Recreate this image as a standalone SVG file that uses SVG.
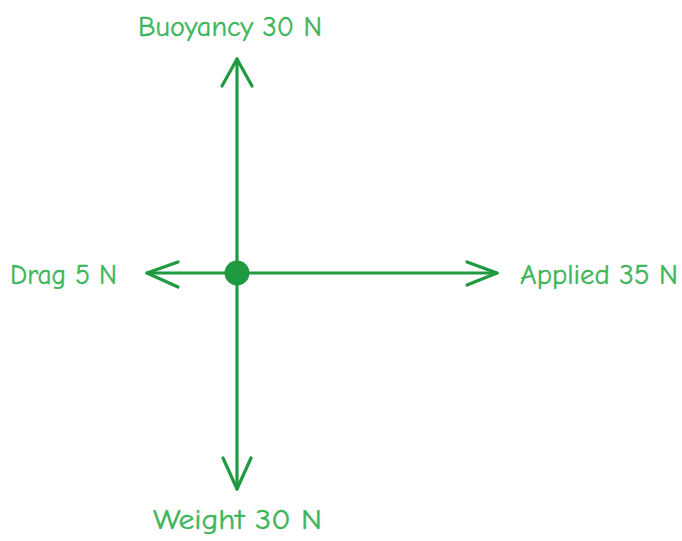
<svg xmlns="http://www.w3.org/2000/svg" width="682" height="541" viewBox="0 0 682 541">
<style>
.lbl{font-family:"Comic Neue","Liberation Sans",Arial,sans-serif;font-size:28px;fill:#3db55b;stroke:#3db55b;stroke-width:0.4}
.ln{stroke:#1f9a41;stroke-width:3.2;fill:none;stroke-linecap:round;stroke-linejoin:round}
</style>
<rect width="682" height="541" fill="#ffffff"/>
<g id="connectors">
<line class="ln" x1="237" y1="273" x2="237" y2="59"/>
<polyline class="ln" points="222,86 237,59 252,86"/>
<line class="ln" x1="237" y1="273" x2="237" y2="489"/>
<polyline class="ln" points="223,458 237,489 251,458"/>
<line class="ln" x1="237" y1="273" x2="147" y2="273"/>
<polyline class="ln" points="178,262 147,273 178,287"/>
<line class="ln" x1="237" y1="273" x2="497" y2="273"/>
<polyline class="ln" points="467,262 497,273 467,285"/>
</g>
<g id="center"><circle cx="237" cy="273" r="12.5" fill="#1f9a41"/></g>
<g id="buoyancy"><text class="lbl" x="138" y="36" textLength="184" lengthAdjust="spacingAndGlyphs">Buoyancy 30 N</text></g>
<g id="drag"><text class="lbl" x="10" y="284" textLength="107" lengthAdjust="spacingAndGlyphs">Drag 5 N</text></g>
<g id="applied"><text class="lbl" x="520" y="284" textLength="158" lengthAdjust="spacingAndGlyphs">Applied 35 N</text></g>
<g id="weight"><text class="lbl" x="153" y="529" textLength="169" lengthAdjust="spacingAndGlyphs">Weight 30 N</text></g>
</svg>
